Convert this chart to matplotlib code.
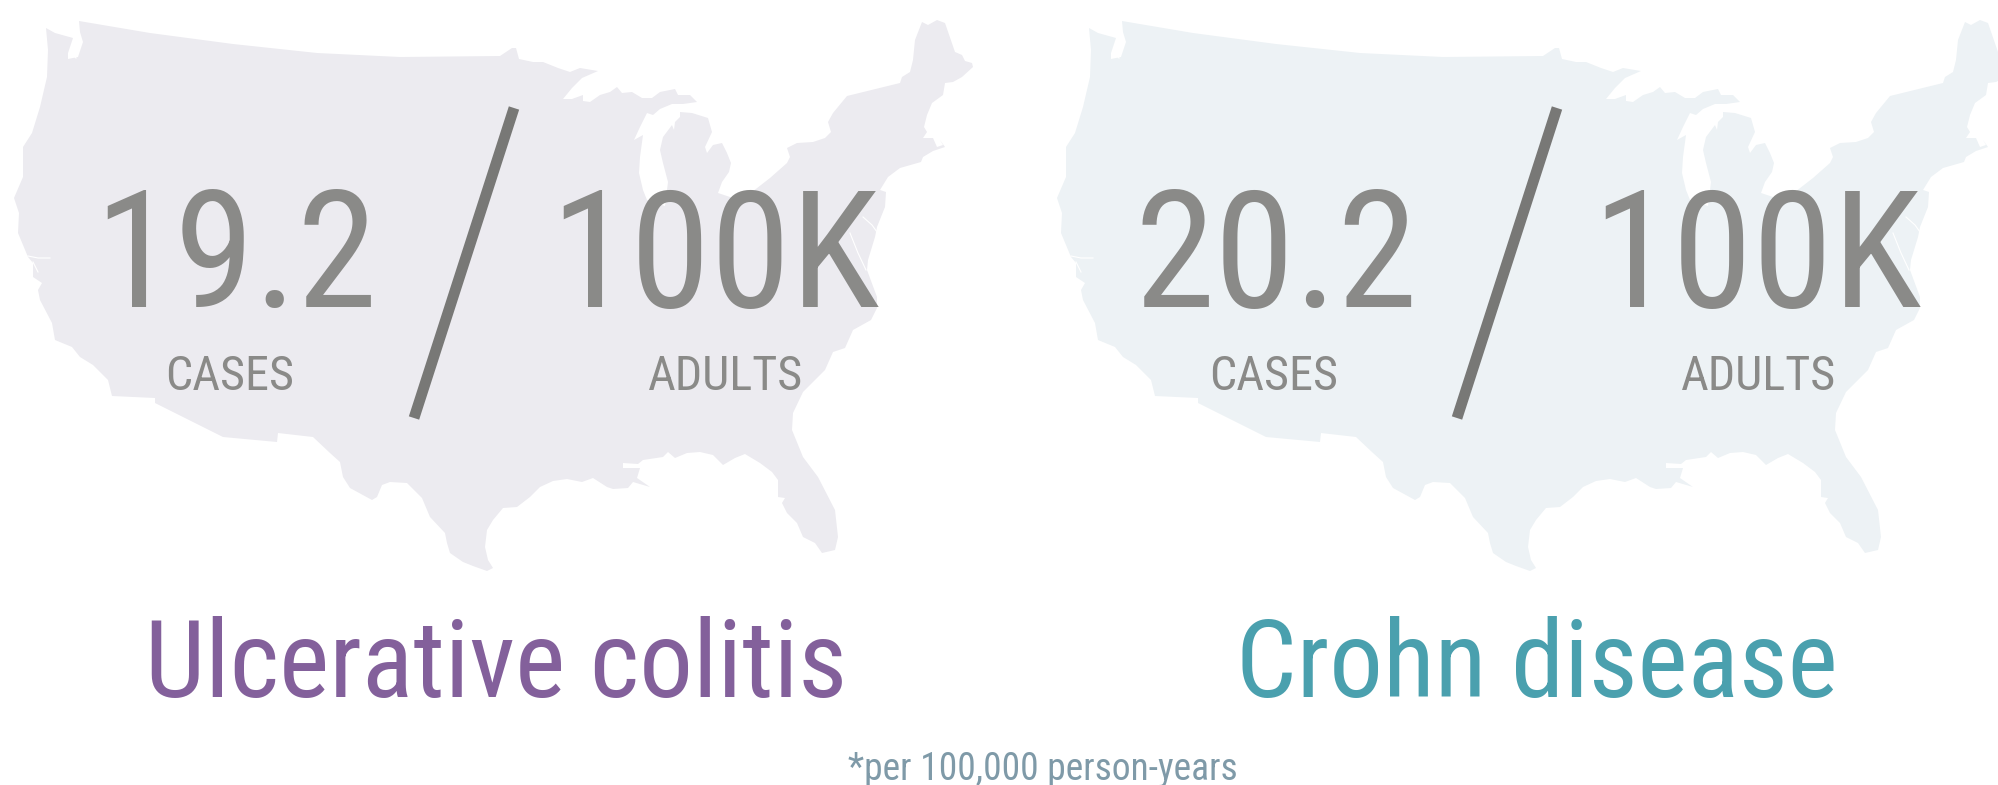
import matplotlib
matplotlib.use('Agg')
import matplotlib.pyplot as plt

# outline of the map (pixels of the first panel)
map_x = [79, 150, 233, 317, 400, 500, 512, 516, 519, 533, 543, 553, 558, 570, 580, 598, 582, 572, 563, 572, 583, 583,
         590, 600, 610, 617, 622, 632, 642, 652, 660, 675, 678, 690, 697, 683, 672, 660, 653, 647, 640, 634, 643, 640,
         639, 643, 647, 665, 668, 663, 660, 663, 672, 674, 675, 680, 680, 692, 708, 712, 705, 707, 713, 722, 727, 731,
         729, 722, 718, 733, 752, 770, 787, 790, 787, 797, 813, 825, 831, 828, 833, 847, 900, 902, 910, 913, 915, 922,
         928, 937, 945, 955, 962, 965, 972, 973, 962, 953, 945, 943, 932, 927, 924, 927, 923, 933, 937, 943, 940, 945,
         933, 923, 921, 900, 888, 880, 886, 885, 877, 875, 868, 867, 877, 877, 871, 853, 845, 833, 825, 803, 793, 792,
         803, 818, 835, 838, 835, 822, 815, 803, 797, 787, 782, 785, 778, 778, 772, 760, 745, 735, 723, 713, 700, 687,
         675, 668, 663, 643, 638, 623, 623, 640, 637, 650, 633, 628, 613, 607, 593, 582, 567, 553, 540, 530, 517, 503,
         493, 487, 485, 488, 493, 487, 473, 463, 450, 447, 445, 430, 422, 407, 390, 382, 377, 372, 350, 343, 340, 330,
         313, 278, 277, 223, 155, 155, 112, 108, 93, 80, 72, 55, 52, 40, 38, 42, 33, 33, 28, 18, 19, 14, 23, 23, 32, 40,
         47, 48, 46, 55, 73, 68, 68, 78, 83, 80]
map_y = [21, 33, 44, 53, 57, 56, 48, 48, 59, 62, 62, 66, 68, 72, 68, 71, 78, 88, 99, 99, 95, 101,
         102, 95, 92, 87, 93, 92, 98, 98, 92, 89, 95, 95, 102, 104, 104, 109, 115, 113, 127, 140, 135, 157,
         173, 190, 200, 206, 182, 163, 150, 137, 125, 130, 122, 117, 112, 113, 118, 132, 147, 153, 145, 143, 153, 163,
         172, 182, 193, 198, 192, 178, 163, 157, 148, 143, 142, 138, 132, 122, 113, 96, 83, 77, 72, 60, 40, 22,
         25, 20, 23, 52, 55, 61, 63, 67, 77, 82, 83, 95, 103, 115, 127, 132, 138, 138, 147, 145, 140, 147,
         151, 157, 162, 168, 177, 190, 192, 207, 227, 237, 260, 270, 297, 308, 320, 330, 348, 352, 370, 392, 413, 430,
         457, 477, 510, 537, 550, 553, 543, 537, 523, 513, 503, 498, 497, 480, 472, 463, 454, 458, 465, 455, 452, 453,
         458, 452, 457, 460, 464, 463, 468, 468, 478, 487, 482, 488, 489, 487, 478, 482, 479, 481, 487, 497, 507, 508,
         520, 530, 547, 560, 568, 571, 566, 562, 553, 543, 533, 517, 498, 483, 482, 485, 497, 500, 488, 477, 462, 453,
         437, 433, 442, 437, 403, 398, 396, 380, 365, 357, 347, 340, 323, 300, 290, 283, 277, 263, 257, 233, 213, 198, 177, 147, 133, 107,
         77, 50, 28, 33, 38, 53, 59, 57, 42, 32]

# bays that stay white inside the outline
bay_x = [[863, 872, 877], [850, 858, 866], [28, 38, 50], [33, 36, 38], [74, 70, 76]]
bay_y = [[217, 225, 232], [233, 253, 270], [256, 258, 258], [262, 268, 272], [45, 52, 58]]

slash_x = [414, 514]
slash_y = [418, 108]

panel_offset = [0, 1043]
map_colors = ['#ECEBF0', '#EDF2F5']

cases_values = ['19.2', '20.2']
cases_x = [94, 1135]
per_x = [550, 1592]
cases_label_x = [165, 1209]
adults_label_x = [648, 1681]
names = ['Ulcerative colitis', 'Crohn disease']
name_x = [145, 1236]
name_colors = ['#83609B', '#4AA0AE']

fig = plt.figure(figsize=(19.98, 7.85), dpi=100, facecolor='white')
ax = fig.add_axes([0, 0, 1, 1])
ax.set_xlim(0, 1998)
ax.set_ylim(785, 0)
ax.axis('off')

font = 'Roboto Condensed'
grey = '#8A8A88'

for i in range(2):
    off = panel_offset[i]
    ax.fill([x + off for x in map_x], map_y, color=map_colors[i], lw=0)
    for bx, by in zip(bay_x, bay_y):
        ax.plot([x + off for x in bx], by, color='white', lw=0.8)
    ax.plot([x + off for x in slash_x], slash_y, color='#787876', lw=7.8, solid_capstyle='butt')

    ax.text(cases_x[i], 307, cases_values[i], family=font, weight=400, size=117, color=grey, va='baseline')
    ax.text(per_x[i], 307, '100K', family=font, weight=400, size=117, color=grey, va='baseline')
    ax.text(cases_label_x[i], 390, 'CASES', family=font, weight=400, size=34.7, color=grey, va='baseline')
    ax.text(adults_label_x[i], 390, 'ADULTS', family=font, weight=400, size=34.7, color=grey, va='baseline')
    ax.text(name_x[i], 697, names[i], family=font, weight=400, size=77, color=name_colors[i], va='baseline')

ax.text(848, 780, '*per 100,000 person-years', family=font, weight=400, size=27, color='#7F9AA8', va='baseline')

fig.savefig('out.png', dpi=100)
